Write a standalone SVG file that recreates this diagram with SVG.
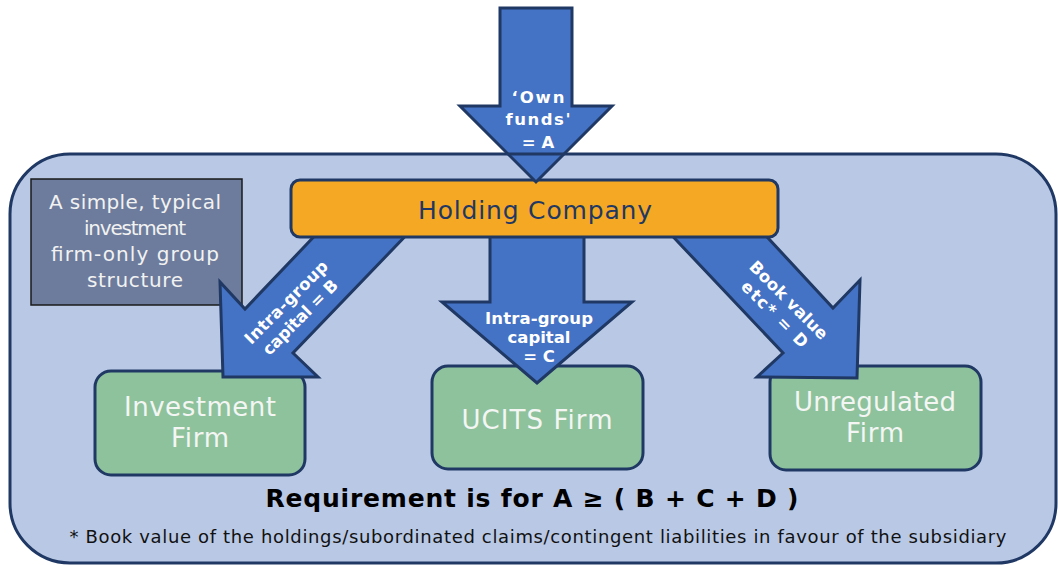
<svg xmlns="http://www.w3.org/2000/svg" width="1058" height="565" viewBox="0 0 1058 565">
<defs>
<style>
.arrow{fill:#4472C4;stroke:#1F3864;stroke-width:3;stroke-linejoin:miter}
.albl{font-family:"DejaVu Sans",Verdana,sans-serif;font-weight:bold;font-size:16.5px;fill:#FFFFFF;text-anchor:middle}
.firm rect{fill:#8EC29C;stroke:#1F3864;stroke-width:3}
.firm text{font-family:"DejaVu Sans",Verdana,sans-serif;font-size:26px;fill:#F4F6F4;text-anchor:middle}
</style>
</defs>
<rect width="1058" height="565" fill="#FFFFFF"/>
<g id="container">
<rect x="10" y="154" width="1046" height="409" rx="60" ry="60" fill="#B9C9E5"/>
</g>
<g id="note">
<rect x="31" y="179" width="211" height="126" fill="#6D7C9C" stroke="#1A1A1A" stroke-width="1.5"/>
<g font-family="DejaVu Sans,Verdana,sans-serif" font-size="20" fill="#F2F2F2" text-anchor="middle">
<text x="135" y="209" textLength="172">A simple, typical</text>
<text x="135" y="235" textLength="102">investment</text>
<text x="135" y="261" textLength="168">firm-only group</text>
<text x="135" y="287" textLength="96">structure</text>
</g>
</g>
<g id="investment-firm" class="firm">
<rect x="95" y="371" width="210" height="104" rx="16"/>
<text x="200" y="416" textLength="152">Investment</text>
<text x="200" y="447" textLength="58">Firm</text>
</g>
<g id="ucits-firm" class="firm">
<rect x="432" y="366" width="211" height="103" rx="16"/>
<text x="537" y="429" textLength="151">UCITS Firm</text>
</g>
<g id="unregulated-firm" class="firm">
<rect x="770" y="366" width="211" height="104" rx="16"/>
<text x="875" y="411" textLength="162">Unregulated</text>
<text x="875" y="442" textLength="58">Firm</text>
</g>
<g id="connectors">
<polygon class="arrow" points="325,225 245,309 220,282 223,377 318,377 293,353 416,225"/>
<text class="albl" transform="translate(286,302) rotate(-45)" y="6" textLength="110">Intra-group</text>
<text class="albl" transform="translate(300,317) rotate(-45)" y="6" textLength="99">capital = B</text>
<polygon class="arrow" points="490,225 584,225 584,302 632,302 537,383 442,302 490,302"/>
<text class="albl" x="539" y="324" textLength="108">Intra-group</text>
<text class="albl" x="539" y="343">capital</text>
<text class="albl" x="539" y="362">= C</text>
<polygon class="arrow" points="662,225 783,353 757,377 857,378 860,280 833,308 756,225"/>
<text class="albl" transform="translate(789,300) rotate(45)" y="6" textLength="103">Book value</text>
<text class="albl" transform="translate(775,314) rotate(45)" y="6" textLength="87">etc*  = D</text>
</g>
<g id="holding-company">
<rect x="291" y="180" width="487" height="57" rx="9" fill="#F5A823" stroke="#1F3864" stroke-width="3"/>
<text x="535" y="219" font-family="DejaVu Sans,Verdana,sans-serif" font-size="25" fill="#1F3864" text-anchor="middle" textLength="234">Holding Company</text>
</g>
<g id="own-funds">
<polygon class="arrow" points="500,8 572,8 572,106 612,106 536,182 460,106 500,106"/>
<text class="albl" x="538" y="103" font-size="19" textLength="53">‘Own</text>
<text class="albl" x="538" y="125" font-size="19" textLength="65">funds'</text>
<text class="albl" x="538" y="148" font-size="19">= A</text>
</g>
<rect x="10" y="154" width="1046" height="409" rx="60" ry="60" fill="none" stroke="#1F3864" stroke-width="3"/>
<g id="footer" font-family="DejaVu Sans,Verdana,sans-serif" text-anchor="middle">
<text x="532" y="507" font-size="25" font-weight="bold" fill="#000000" textLength="533">Requirement is for A ≥ ( B + C + D )</text>
<text x="538" y="543" font-size="18" fill="#111111" textLength="937">* Book value of the holdings/subordinated claims/contingent liabilities in favour of the subsidiary</text>
</g>
</svg>
